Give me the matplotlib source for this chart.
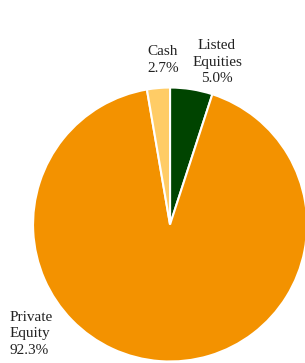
import matplotlib
matplotlib.use('Agg')
import matplotlib.pyplot as plt

labels = ['Listed\nEquities\n5.0%', 'Private\nEquity\n92.3%', 'Cash\n2.7%']
values = [5.0, 92.3, 2.7]
colors = ['#004400', '#F39200', '#FFCC66']

plt.rcParams['font.family'] = ['Liberation Serif', 'DejaVu Serif']

fig = plt.figure(figsize=(3.05, 3.63), dpi=100)
ax = fig.add_axes((0, 0, 1, 1))
ax.pie(values, colors=colors, startangle=90, counterclock=False,
       wedgeprops=dict(edgecolor='white', linewidth=1.5))
ax.set_xlim(-1.241, 0.985)
ax.set_ylim(-1.011, 1.639)
ax.set_aspect('equal')
ax.axis('off')

# label positions (data units of the pie)
kw = dict(va='center', fontsize=11, linespacing=1.35, color='#222222')
ax.text(0.343, 1.186, labels[0], ha='center', **kw)
ax.text(-0.051, 1.201, labels[2], ha='center', **kw)
ax.text(-1.175, -0.799, labels[1], ha='left', **kw)

fig.savefig('out.png', dpi=100)
